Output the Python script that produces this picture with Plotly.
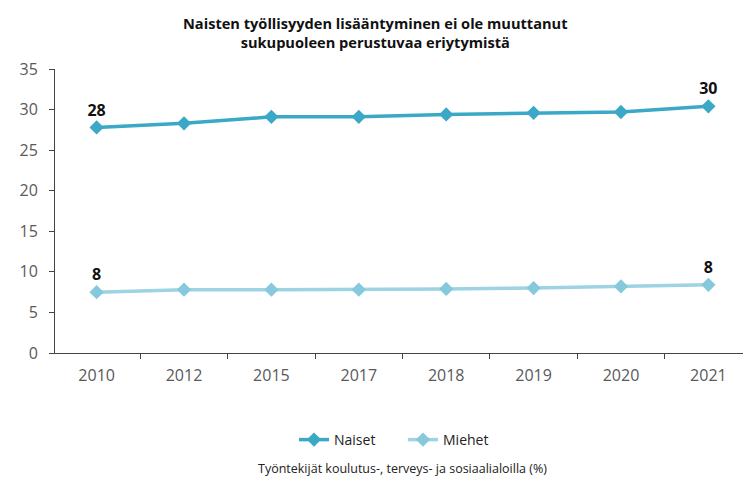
import plotly.graph_objects as go

years = ["2010", "2012", "2015", "2017", "2018", "2019", "2020", "2021"]
naiset = [27.8, 28.3, 29.1, 29.1, 29.4, 29.6, 29.7, 30.4]
miehet = [7.5, 7.8, 7.8, 7.8, 7.9, 8.0, 8.2, 8.4]
naiset_labels = ["28", "", "", "", "", "", "", "30"]
miehet_labels = ["8", "", "", "", "", "", "", "8"]

title = "Naisten työllisyyden lisääntyminen ei ole muuttanut<br>sukupuoleen perustuvaa eriytymistä"
source = "Työntekijät koulutus-, terveys- ja sosiaalialoilla (%)"

FONT = "Open Sans"
c_n = "#3aa8c6"
c_m = "#9dd3e2"

fig = go.Figure()
fig.add_trace(go.Scatter(
    x=years, y=naiset, name="Naiset", mode="lines+markers+text",
    line=dict(color=c_n, width=3.5),
    marker=dict(symbol="diamond", size=11, color=c_n),
    text=naiset_labels, textposition="top center",
    textfont=dict(family=FONT, size=16, color="#111111", weight="bold"),
))
fig.add_trace(go.Scatter(
    x=years, y=miehet, name="Miehet", mode="lines+markers+text",
    line=dict(color=c_m, width=3.5),
    marker=dict(symbol="diamond", size=11, color="#86c8dc"),
    text=miehet_labels, textposition="top center",
    textfont=dict(family=FONT, size=16, color="#111111", weight="bold"),
))

PH = 284
PW = 695
fig.update_layout(
    width=743, height=471,
    margin=dict(l=47, r=1, t=61, b=126, autoexpand=False),
    paper_bgcolor="white", plot_bgcolor="white",
    font=dict(family=FONT, color="#555555"),
    showlegend=True,
    legend=dict(orientation="h", x=(403 - 55) / PW, xanchor="center", y=-(440 - 353) / PH, yanchor="middle",
                font=dict(family=FONT, size=14, color="#222222"), entrywidth=64, entrywidthmode="pixels"),
    annotations=[
        dict(text="<b>" + title + "</b>", x=(375 - 55) / PW, xref="paper", xanchor="center",
             y=1.0 + (69 - 32) / PH, yref="paper", yanchor="middle", showarrow=False,
             font=dict(family=FONT, size=14.6, color="#111111")),
        dict(text=source, x=0.5, xref="paper", xanchor="center",
             y=-(468 - 353) / PH, yref="paper", yanchor="middle", showarrow=False,
             font=dict(family=FONT, size=12.5, color="#222222")),
    ],
)
fig.update_xaxes(
    type="category", showgrid=False, showline=True, linecolor="#444444", linewidth=1,
    ticks="outside", tickson="boundaries", ticklen=5, tickcolor="#444444", automargin=False,
    ticklabelstandoff=8,
    tickfont=dict(family=FONT, size=16, color="#595959"),
)
fig.update_yaxes(
    range=[0, 35], dtick=5, showgrid=False, showline=True, linecolor="#444444", linewidth=1,
    ticks="outside", ticklen=5, tickcolor="#444444", zeroline=False, automargin=False,
    ticklabelstandoff=8,
    tickfont=dict(family=FONT, size=16, color="#595959"),
)

fig.write_html("out.html")
